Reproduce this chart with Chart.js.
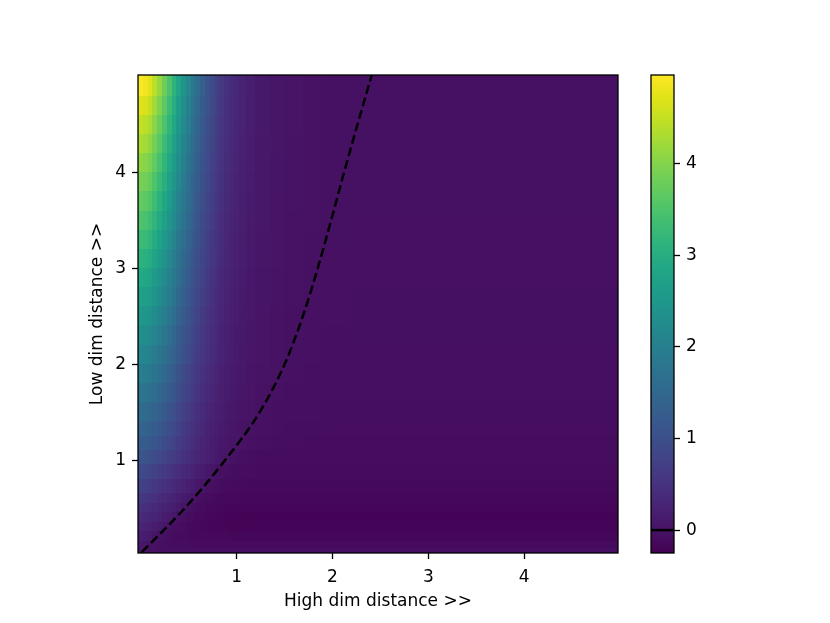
<!DOCTYPE html>
<html>
<head>
<meta charset="utf-8">
<script src="https://cdn.jsdelivr.net/npm/chart.js@4.4.1/dist/chart.umd.min.js"></script>
<style>
  html, body { margin: 0; padding: 0; background: #fff; }
  #wrap { position: relative; width: 830px; height: 623px; }
  #wrap canvas { position: absolute; left: 0; top: 0; }
</style>
</head>
<body>
<div id="wrap">
  <canvas id="heatChart" width="830" height="623"></canvas>
  <canvas id="barChart" width="830" height="623"></canvas>
</div>
<script>
// cell edges (data units)
const highDimEdges = [-0.03, 0.025, 0.075, 0.125, 0.175, 0.225, 0.275, 0.325, 0.375, 0.425, 0.475,
  0.525, 0.575, 0.625, 0.675, 0.725, 0.775, 0.825, 0.875, 0.925, 0.975, 1.025,
  1.1, 1.2, 1.35, 1.5, 1.7, 1.9, 2.2, 2.7, 3.2, 3.7, 4.2, 4.7, 4.98];
// top to bottom
const lowDimEdges = [5.02, 4.8, 4.6, 4.4, 4.2, 4.0, 3.8, 3.6, 3.4, 3.2, 3.0, 2.8, 2.6, 2.4, 2.2, 2.0,
  1.8, 1.6, 1.4, 1.25, 1.1, 0.95, 0.8, 0.65, 0.55, 0.45, 0.35, 0.25, 0.15, 0.08, 0.03];

// cost per cell, one row per low dim band (top row first)
const cost = [
  [4.94, 4.87, 4.72, 4.44, 4.14, 3.81, 3.48, 3.13, 2.77, 2.43, 2.13, 1.83, 1.57, 1.32, 1.10, 0.91, 0.75, 0.61, 0.50, 0.41, 0.34, 0.26, 0.18, 0.11, 0.05, 0.02, 0.0, -0.015, -0.02, -0.02, -0.02, -0.02, -0.02, -0.02],
  [4.72, 4.65, 4.51, 4.25, 3.95, 3.64, 3.32, 2.99, 2.64, 2.32, 2.03, 1.75, 1.50, 1.26, 1.05, 0.87, 0.71, 0.58, 0.47, 0.39, 0.32, 0.25, 0.17, 0.10, 0.05, 0.02, 0.0, -0.015, -0.02, -0.02, -0.02, -0.02, -0.02, -0.02],
  [4.50, 4.43, 4.30, 4.05, 3.77, 3.47, 3.17, 2.85, 2.52, 2.21, 1.94, 1.67, 1.43, 1.20, 1.00, 0.83, 0.68, 0.55, 0.45, 0.37, 0.31, 0.24, 0.17, 0.10, 0.05, 0.02, 0.0, -0.015, -0.02, -0.02, -0.02, -0.02, -0.02, -0.02],
  [4.30, 4.24, 4.11, 3.87, 3.60, 3.32, 3.03, 2.72, 2.41, 2.11, 1.85, 1.59, 1.36, 1.15, 0.96, 0.79, 0.65, 0.53, 0.43, 0.35, 0.29, 0.23, 0.16, 0.09, 0.05, 0.01, 0.0, -0.016, -0.02, -0.02, -0.02, -0.02, -0.02, -0.02],
  [4.10, 4.04, 3.91, 3.69, 3.43, 3.16, 2.88, 2.60, 2.30, 2.02, 1.76, 1.52, 1.30, 1.09, 0.91, 0.75, 0.62, 0.50, 0.41, 0.33, 0.28, 0.21, 0.15, 0.09, 0.04, 0.01, 0.0, -0.016, -0.02, -0.02, -0.02, -0.02, -0.02, -0.02],
  [3.90, 3.84, 3.72, 3.51, 3.27, 3.01, 2.74, 2.47, 2.18, 1.92, 1.68, 1.44, 1.23, 1.04, 0.86, 0.72, 0.59, 0.48, 0.39, 0.32, 0.26, 0.20, 0.14, 0.08, 0.04, 0.01, -0.01, -0.018, -0.022, -0.022, -0.022, -0.022, -0.022, -0.022],
  [3.70, 3.64, 3.53, 3.33, 3.10, 2.85, 2.60, 2.34, 2.07, 1.82, 1.59, 1.37, 1.17, 0.98, 0.82, 0.68, 0.55, 0.45, 0.36, 0.30, 0.24, 0.19, 0.13, 0.07, 0.03, 0.01, -0.01, -0.02, -0.024, -0.024, -0.024, -0.024, -0.024, -0.024],
  [3.50, 3.45, 3.34, 3.15, 2.93, 2.70, 2.46, 2.21, 1.96, 1.72, 1.50, 1.29, 1.10, 0.93, 0.77, 0.64, 0.52, 0.42, 0.34, 0.28, 0.23, 0.18, 0.12, 0.07, 0.03, 0.0, -0.01, -0.022, -0.026, -0.026, -0.026, -0.026, -0.026, -0.026],
  [3.30, 3.25, 3.15, 2.97, 2.76, 2.54, 2.32, 2.09, 1.84, 1.62, 1.41, 1.21, 1.04, 0.87, 0.72, 0.60, 0.49, 0.40, 0.32, 0.26, 0.21, 0.16, 0.11, 0.06, 0.02, 0.0, -0.015, -0.025, -0.028, -0.028, -0.028, -0.028, -0.028, -0.028],
  [3.10, 3.05, 2.96, 2.79, 2.59, 2.39, 2.18, 1.96, 1.73, 1.52, 1.33, 1.14, 0.97, 0.82, 0.68, 0.56, 0.46, 0.37, 0.30, 0.24, 0.20, 0.15, 0.10, 0.05, 0.02, -0.01, -0.02, -0.03, -0.03, -0.03, -0.03, -0.03, -0.03, -0.03],
  [2.90, 2.86, 2.77, 2.61, 2.43, 2.23, 2.04, 1.83, 1.62, 1.42, 1.24, 1.06, 0.91, 0.76, 0.63, 0.52, 0.42, 0.34, 0.27, 0.22, 0.18, 0.14, 0.09, 0.04, 0.01, -0.01, -0.02, -0.03, -0.032, -0.032, -0.032, -0.032, -0.032, -0.032],
  [2.72, 2.68, 2.60, 2.45, 2.27, 2.09, 1.91, 1.72, 1.51, 1.33, 1.16, 0.99, 0.85, 0.71, 0.59, 0.48, 0.39, 0.32, 0.25, 0.20, 0.16, 0.12, 0.08, 0.04, 0.01, -0.01, -0.02, -0.03, -0.034, -0.034, -0.034, -0.034, -0.034, -0.034],
  [2.53, 2.49, 2.42, 2.27, 2.11, 1.95, 1.77, 1.59, 1.41, 1.23, 1.08, 0.92, 0.79, 0.66, 0.54, 0.45, 0.36, 0.29, 0.23, 0.19, 0.15, 0.11, 0.07, 0.03, 0.0, -0.02, -0.03, -0.03, -0.036, -0.036, -0.036, -0.036, -0.036, -0.036],
  [2.34, 2.30, 2.23, 2.10, 1.96, 1.80, 1.64, 1.47, 1.30, 1.14, 0.99, 0.85, 0.72, 0.60, 0.50, 0.41, 0.33, 0.26, 0.21, 0.17, 0.13, 0.10, 0.06, 0.02, 0.0, -0.02, -0.03, -0.04, -0.038, -0.038, -0.038, -0.038, -0.038, -0.038],
  [2.15, 2.12, 2.05, 1.93, 1.80, 1.65, 1.50, 1.35, 1.19, 1.04, 0.91, 0.78, 0.66, 0.55, 0.46, 0.37, 0.30, 0.24, 0.19, 0.15, 0.12, 0.09, 0.05, 0.02, -0.01, -0.02, -0.03, -0.04, -0.04, -0.04, -0.04, -0.04, -0.04, -0.04],
  [1.96, 1.93, 1.87, 1.76, 1.64, 1.50, 1.37, 1.23, 1.08, 0.95, 0.82, 0.70, 0.60, 0.50, 0.41, 0.33, 0.27, 0.21, 0.17, 0.13, 0.10, 0.07, 0.04, 0.01, -0.01, -0.03, -0.04, -0.04, -0.043, -0.043, -0.043, -0.043, -0.043, -0.043],
  [1.77, 1.74, 1.69, 1.59, 1.48, 1.36, 1.23, 1.11, 0.97, 0.85, 0.74, 0.63, 0.53, 0.44, 0.36, 0.29, 0.23, 0.18, 0.14, 0.11, 0.08, 0.05, 0.03, 0.0, -0.02, -0.04, -0.04, -0.05, -0.05, -0.05, -0.05, -0.05, -0.05, -0.05],
  [1.58, 1.56, 1.51, 1.42, 1.31, 1.21, 1.10, 0.98, 0.86, 0.75, 0.65, 0.55, 0.47, 0.38, 0.31, 0.25, 0.19, 0.15, 0.11, 0.08, 0.06, 0.03, 0.01, -0.02, -0.04, -0.05, -0.05, -0.06, -0.06, -0.06, -0.06, -0.06, -0.06, -0.06],
  [1.41, 1.39, 1.34, 1.26, 1.17, 1.07, 0.97, 0.87, 0.76, 0.66, 0.57, 0.48, 0.40, 0.33, 0.26, 0.21, 0.16, 0.12, 0.08, 0.06, 0.04, 0.01, -0.01, -0.03, -0.05, -0.06, -0.06, -0.07, -0.07, -0.07, -0.07, -0.07, -0.07, -0.07],
  [1.26, 1.24, 1.20, 1.13, 1.04, 0.95, 0.86, 0.77, 0.67, 0.58, 0.50, 0.42, 0.35, 0.28, 0.22, 0.17, 0.13, 0.09, 0.06, 0.04, 0.02, 0.0, -0.03, -0.05, -0.06, -0.07, -0.08, -0.08, -0.08, -0.08, -0.08, -0.08, -0.08, -0.08],
  [1.12, 1.08, 1.02, 0.95, 0.87, 0.80, 0.72, 0.64, 0.56, 0.49, 0.43, 0.36, 0.30, 0.25, 0.20, 0.15, 0.10, 0.06, 0.025, 0.0, -0.025, -0.045, -0.06, -0.075, -0.085, -0.09, -0.09, -0.09, -0.09, -0.09, -0.09, -0.09, -0.09, -0.09],
  [0.92, 0.875, 0.82, 0.75, 0.68, 0.615, 0.55, 0.485, 0.42, 0.36, 0.30, 0.245, 0.19, 0.14, 0.09, 0.04, -0.01, -0.03, -0.05, -0.066, -0.08, -0.088, -0.095, -0.1, -0.103, -0.105, -0.105, -0.105, -0.105, -0.105, -0.105, -0.105, -0.105, -0.105],
  [0.75, 0.71, 0.66, 0.60, 0.54, 0.48, 0.42, 0.36, 0.30, 0.245, 0.19, 0.135, 0.08, 0.03, -0.02, -0.045, -0.07, -0.085, -0.1, -0.11, -0.12, -0.125, -0.13, -0.133, -0.135, -0.135, -0.135, -0.135, -0.135, -0.135, -0.135, -0.135, -0.135, -0.135],
  [0.60, 0.56, 0.52, 0.465, 0.41, 0.355, 0.30, 0.245, 0.19, 0.13, 0.07, 0.02, -0.03, -0.06, -0.09, -0.105, -0.12, -0.13, -0.14, -0.148, -0.155, -0.158, -0.16, -0.163, -0.165, -0.165, -0.165, -0.165, -0.165, -0.165, -0.165, -0.165, -0.165, -0.165],
  [0.48, 0.445, 0.41, 0.36, 0.31, 0.26, 0.21, 0.155, 0.10, 0.04, -0.02, -0.055, -0.09, -0.11, -0.13, -0.145, -0.16, -0.168, -0.175, -0.18, -0.185, -0.188, -0.19, -0.193, -0.195, -0.195, -0.195, -0.195, -0.195, -0.195, -0.195, -0.195, -0.195, -0.195],
  [0.37, 0.34, 0.31, 0.265, 0.22, 0.17, 0.12, 0.055, -0.01, -0.045, -0.08, -0.105, -0.13, -0.145, -0.16, -0.17, -0.18, -0.19, -0.2, -0.205, -0.21, -0.213, -0.215, -0.218, -0.22, -0.22, -0.22, -0.22, -0.22, -0.22, -0.22, -0.22, -0.22, -0.22],
  [0.27, 0.24, 0.21, 0.165, 0.12, 0.06, -0.01, -0.04, -0.07, -0.095, -0.12, -0.135, -0.15, -0.16, -0.17, -0.178, -0.185, -0.19, -0.195, -0.198, -0.2, -0.203, -0.205, -0.208, -0.21, -0.21, -0.21, -0.21, -0.21, -0.21, -0.21, -0.21, -0.21, -0.21],
  [0.17, 0.135, 0.10, 0.045, -0.01, -0.035, -0.06, -0.08, -0.1, -0.11, -0.12, -0.128, -0.135, -0.14, -0.145, -0.148, -0.15, -0.153, -0.155, -0.158, -0.16, -0.16, -0.16, -0.16, -0.16, -0.16, -0.16, -0.16, -0.16, -0.16, -0.16, -0.16, -0.16, -0.16],
  [0.09, 0.045, 0.0, -0.025, -0.05, -0.06, -0.07, -0.078, -0.085, -0.09, -0.095, -0.098, -0.1, -0.1, -0.1, -0.1, -0.1, -0.1, -0.1, -0.1, -0.1, -0.1, -0.1, -0.1, -0.1, -0.1, -0.1, -0.1, -0.1, -0.1, -0.1, -0.1, -0.1, -0.1],
  [0.03, 0.005, -0.02, -0.028, -0.035, -0.038, -0.04, -0.043, -0.045, -0.048, -0.05, -0.05, -0.05, -0.05, -0.05, -0.05, -0.05, -0.05, -0.05, -0.05, -0.05, -0.05, -0.05, -0.05, -0.05, -0.05, -0.05, -0.05, -0.05, -0.05, -0.05, -0.05, -0.05, -0.05]
];

// zero contour
const contourHigh = [0.01, 0.46, 0.88, 1.24, 1.50, 1.69, 1.845, 1.985, 2.12, 2.26, 2.41];
const contourLow = [0.04, 0.5, 1.0, 1.5, 2.0, 2.5, 3.0, 3.5, 4.0, 4.5, 5.02];

const axisTicks = [1, 2, 3, 4];
const colorbarTicks = [0, 1, 2, 3, 4];
const costMin = -0.25;
const costMax = 4.97;

const viridis = ['#440154', '#471365', '#482475', '#463480', '#414487', '#3b528b', '#355f8d',
  '#2f6c8e', '#2a788e', '#25848e', '#21918c', '#1e9c89', '#22a884', '#2fb47c', '#44bf70',
  '#5ec962', '#7ad151', '#9bd93c', '#bddf26', '#dfe318', '#fde725'];

function hexRgb(h) {
  return [parseInt(h.slice(1, 3), 16), parseInt(h.slice(3, 5), 16), parseInt(h.slice(5, 7), 16)];
}

function colorAt(v) {
  let t = (v - costMin) / (costMax - costMin);
  t = Math.min(1, Math.max(0, t)) * (viridis.length - 1);
  const i = Math.min(Math.floor(t), viridis.length - 2);
  const f = t - i;
  const a = hexRgb(viridis[i]), b = hexRgb(viridis[i + 1]);
  const c = a.map((av, k) => Math.round(av + (b[k] - av) * f));
  return 'rgb(' + c.join(',') + ')';
}

const font = { family: 'DejaVu Sans', size: 17 };

const heatmap = {
  id: 'heatmap',
  beforeDatasetsDraw(chart) {
    const { ctx, chartArea, scales: { x, y } } = chart;
    ctx.save();
    ctx.beginPath();
    ctx.rect(chartArea.left, chartArea.top, chartArea.width, chartArea.height);
    ctx.clip();
    for (let r = 0; r < cost.length; r++) {
      const top = Math.floor(y.getPixelForValue(lowDimEdges[r]));
      const bottom = Math.ceil(y.getPixelForValue(lowDimEdges[r + 1]));
      for (let c = 0; c < cost[r].length; c++) {
        const left = Math.floor(x.getPixelForValue(highDimEdges[c]));
        const right = Math.ceil(x.getPixelForValue(highDimEdges[c + 1]));
        ctx.fillStyle = colorAt(cost[r][c]);
        ctx.fillRect(left, top, right - left, bottom - top);
      }
    }
    ctx.restore();
  },
  afterDatasetsDraw(chart) {
    const { ctx, chartArea: a } = chart;
    ctx.save();
    ctx.strokeStyle = '#000';
    ctx.lineWidth = 1.3;
    ctx.strokeRect(a.left, a.top, a.width, a.height);
    ctx.restore();
  }
};

new Chart(document.getElementById('heatChart'), {
  type: 'scatter',
  data: {
    datasets: [{
      data: contourHigh.map((h, i) => ({ x: h, y: contourLow[i] })),
      showLine: true,
      borderColor: '#000',
      borderWidth: 2.5,
      borderDash: [9, 4],
      pointRadius: 0,
      cubicInterpolationMode: 'monotone'
    }]
  },
  options: {
    responsive: false,
    animation: false,
    devicePixelRatio: 1,
    layout: { padding: { left: 0, top: 75, right: 212, bottom: 0 } },
    plugins: { legend: { display: false }, tooltip: { enabled: false } },
    scales: {
      x: {
        type: 'linear', min: -0.03, max: 4.98,
        afterBuildTicks: s => { s.ticks = axisTicks.map(v => ({ value: v })); },
        afterFit: s => { s.height = 70; },
        grid: { drawOnChartArea: false, tickLength: 6, tickColor: '#000', tickWidth: 1.3 },
        border: { display: false },
        ticks: { color: '#000', font: font, padding: 8, maxRotation: 0 },
        title: { display: true, text: 'High dim distance >>', color: '#000', font: font, padding: { top: 0, bottom: 11 } }
      },
      y: {
        type: 'linear', min: 0.03, max: 5.02,
        afterBuildTicks: s => { s.ticks = axisTicks.map(v => ({ value: v })); },
        afterFit: s => { s.width = 138; },
        grid: { drawOnChartArea: false, tickLength: 6, tickColor: '#000', tickWidth: 1.3 },
        border: { display: false },
        ticks: { color: '#000', font: font, padding: 6 },
        title: { display: true, text: 'Low dim distance >>', color: '#000', font: font, padding: { top: 87, bottom: 0 } }
      }
    }
  },
  plugins: [heatmap]
});

const colorbar = {
  id: 'colorbar',
  beforeDatasetsDraw(chart) {
    const { ctx, chartArea: a, scales: { y } } = chart;
    const y0 = y.getPixelForValue(costMin), y1 = y.getPixelForValue(costMax);
    const g = ctx.createLinearGradient(0, y0, 0, y1);
    viridis.forEach((c, i) => g.addColorStop(i / (viridis.length - 1), c));
    ctx.save();
    ctx.fillStyle = g;
    ctx.fillRect(a.left, a.top, a.width, a.height);
    ctx.restore();
  },
  afterDatasetsDraw(chart) {
    const { ctx, chartArea: a } = chart;
    ctx.save();
    ctx.strokeStyle = '#000';
    ctx.lineWidth = 1.3;
    ctx.strokeRect(a.left, a.top, a.width, a.height);
    ctx.restore();
  }
};

new Chart(document.getElementById('barChart'), {
  type: 'scatter',
  data: {
    datasets: [{
      data: [{ x: 0, y: 0 }, { x: 1, y: 0 }],
      showLine: true,
      borderColor: '#000',
      borderWidth: 2.5,
      pointRadius: 0
    }]
  },
  options: {
    responsive: false,
    animation: false,
    devicePixelRatio: 1,
    layout: { padding: { left: 651, top: 75, right: 0, bottom: 70 } },
    plugins: { legend: { display: false }, tooltip: { enabled: false } },
    scales: {
      x: { type: 'linear', min: 0, max: 1, display: false },
      y: {
        type: 'linear', position: 'right', min: costMin, max: costMax,
        afterBuildTicks: s => { s.ticks = colorbarTicks.map(v => ({ value: v })); },
        afterFit: s => { s.width = 156; },
        grid: { drawOnChartArea: false, tickLength: 6, tickColor: '#000', tickWidth: 1.3 },
        border: { display: false },
        ticks: { color: '#000', font: font, padding: 6 }
      }
    }
  },
  plugins: [colorbar]
});
</script>
</body>
</html>
